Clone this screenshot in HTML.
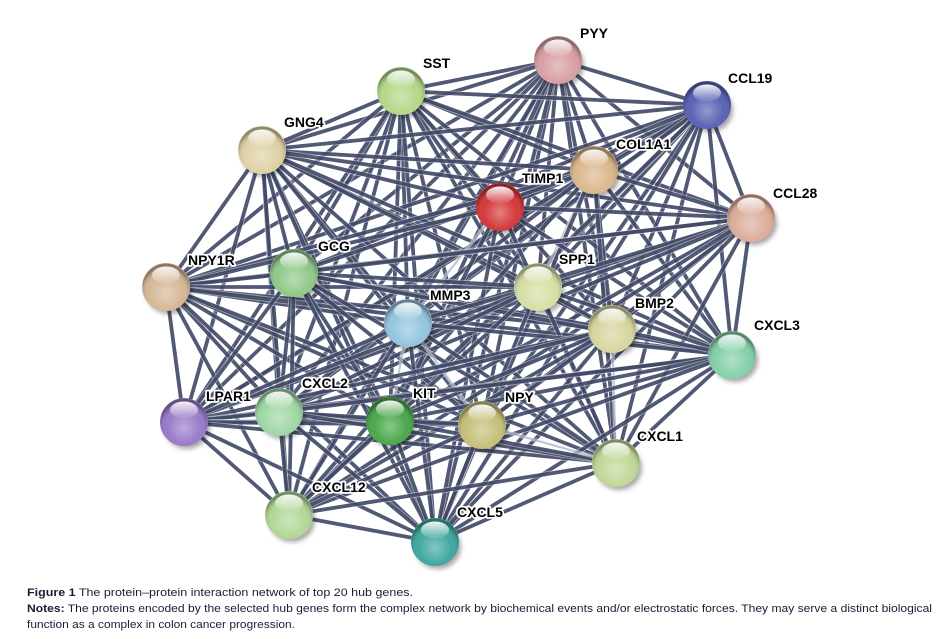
<!DOCTYPE html>
<html>
<head>
<meta charset="utf-8">
<style>
html,body{margin:0;padding:0;background:#fff;}
body{width:937px;height:639px;overflow:hidden;}
svg{display:block;}
.lbl{font-family:"Liberation Sans",Arial,sans-serif;font-weight:bold;font-size:14px;fill:#000;stroke:#fff;stroke-width:3.5px;stroke-linejoin:round;paint-order:stroke;}
.cap{font-family:"Liberation Sans",Arial,sans-serif;font-size:11px;fill:#1c1c36;}
</style>
</head>
<body>
<svg id="s" width="937" height="639" viewBox="0 0 937 639" xmlns="http://www.w3.org/2000/svg">
<defs>
<radialGradient id="shade" cx="50%" cy="62%" r="55%">
<stop offset="0" stop-color="#fff" stop-opacity="0.35"/>
<stop offset="0.65" stop-color="#fff" stop-opacity="0"/>
<stop offset="0.9" stop-color="#000" stop-opacity="0.12"/>
<stop offset="1" stop-color="#000" stop-opacity="0.35"/>
</radialGradient>
<linearGradient id="hl" x1="0" y1="0" x2="0" y2="1">
<stop offset="0" stop-color="#fff" stop-opacity="0.95"/>
<stop offset="1" stop-color="#fff" stop-opacity="0.05"/>
</linearGradient>
<filter id="blur" x="-50%" y="-50%" width="200%" height="200%"><feGaussianBlur stdDeviation="2.5"/></filter>
</defs>
<g id="edges"></g>
<g id="nodes"></g>
<g>
<text class="lbl" x="580" y="38">PYY</text>
<text class="lbl" x="423" y="68">SST</text>
<text class="lbl" x="728" y="83">CCL19</text>
<text class="lbl" x="284" y="127">GNG4</text>
<text class="lbl" x="616" y="149">COL1A1</text>
<text class="lbl" x="522" y="183">TIMP1</text>
<text class="lbl" x="773" y="198">CCL28</text>
<text class="lbl" x="188" y="265">NPY1R</text>
<text class="lbl" x="318" y="251">GCG</text>
<text class="lbl" x="559" y="264">SPP1</text>
<text class="lbl" x="430" y="300">MMP3</text>
<text class="lbl" x="635" y="308">BMP2</text>
<text class="lbl" x="754" y="330">CXCL3</text>
<text class="lbl" x="206" y="401">LPAR1</text>
<text class="lbl" x="302" y="388">CXCL2</text>
<text class="lbl" x="413" y="398">KIT</text>
<text class="lbl" x="505" y="402">NPY</text>
<text class="lbl" x="637" y="441">CXCL1</text>
<text class="lbl" x="312" y="492">CXCL12</text>
<text class="lbl" x="457" y="517">CXCL5</text>
</g>
<text class="cap" x="27" y="596" textLength="386" lengthAdjust="spacingAndGlyphs"><tspan font-weight="bold">Figure 1</tspan> The protein–protein interaction network of top 20 hub genes.</text>
<text class="cap" x="27" y="612" textLength="905" lengthAdjust="spacingAndGlyphs"><tspan font-weight="bold">Notes:</tspan> The proteins encoded by the selected hub genes form the complex network by biochemical events and/or electrostatic forces. They may serve a distinct biological</text>
<text class="cap" x="27" y="628" textLength="268" lengthAdjust="spacingAndGlyphs">function as a complex in colon cancer progression.</text>
</svg>
<script>
var N=[
[558,60,"#d9a0a4"],[401,91,"#b5d88a"],[707,105,"#5b63b5"],[262,150,"#e0d2a6"],
[594,170,"#dbb88e"],[500,207,"#d43a3c"],[751,218,"#dcae9c"],[166,287,"#d6b898"],
[294,273,"#92c98a"],[538,287,"#d6e0a6"],[408,323,"#94c6de"],[612,329,"#d8d6a0"],
[732,355,"#86d0aa"],[184,422,"#9a7cc8"],[279,412,"#a0d8a6"],[390,421,"#4ca84c"],
[482,425,"#c6c07a"],[616,463,"#c0d898"],[289,515,"#b2d898"],[435,542,"#42a8a0"]];
var light={"4-9":1,"16-17":1,"10-15":1,"5-9":1,"11-17":1,"5-10":1,"9-16":1,"10-16":1};
var skip={"5-8":1,"5-14":1,"5-13":1,"5-18":1,"4-10":1,"4-15":1,"5-11":1,"9-15":1,"10-11":1,"4-16":1,"5-16":1,"8-10":1,"10-14":1};
var ns="http://www.w3.org/2000/svg";
var E=document.getElementById("edges"),G=document.getElementById("nodes");
function el(t,a,p){var e=document.createElementNS(ns,t);for(var k in a)e.setAttribute(k,a[k]);p.appendChild(e);return e;}
for(var i=0;i<N.length;i++)for(var j=i+1;j<N.length;j++){
 var key=i+"-"+j;
 if(skip[key])continue;
 var lt=light[key];
 el("line",{x1:N[i][0],y1:N[i][1],x2:N[j][0],y2:N[j][1],stroke:"#fff","stroke-width":lt?4:5.5,"stroke-opacity":0.45},E);
 el("line",{x1:N[i][0],y1:N[i][1],x2:N[j][0],y2:N[j][1],stroke:lt?"#9aa0b2":"#323c5c","stroke-width":lt?2.2:3.8,"stroke-opacity":lt?0.6:0.85},E);
}
for(var i=0;i<N.length;i++){
 var x=N[i][0],y=N[i][1],c=N[i][2];
 el("ellipse",{cx:x+3,cy:y+5,rx:23,ry:22,fill:"#000","fill-opacity":0.35,filter:"url(#blur)"},G);
 el("circle",{cx:x,cy:y,r:23.5,fill:c,stroke:c,"stroke-width":1},G);
 el("circle",{cx:x,cy:y,r:23.5,fill:"url(#shade)"},G);
 el("ellipse",{cx:x,cy:y-12,rx:14,ry:8.5,fill:"url(#hl)"},G);
}
</script>
</body>
</html>
